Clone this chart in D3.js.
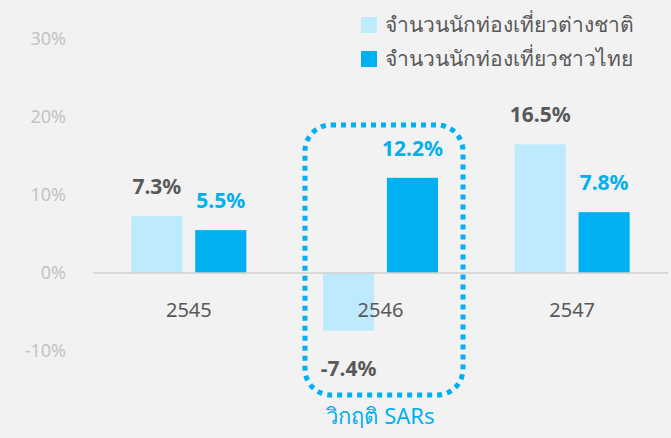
<!DOCTYPE html>
<html>
<head>
<meta charset="utf-8">
<script src="https://cdn.jsdelivr.net/npm/d3@7"></script>
<style>
  html, body { margin: 0; padding: 0; background: #f2f2f2; }
  svg { display: block; font-family: "Noto Sans", "DejaVu Sans", sans-serif; }
</style>
</head>
<body>
<svg id="chart"></svg>
<script>
// Data
const years = ['2545', '2546', '2547'];
const seriesNames = ['จำนวนนักท่องเที่ยวต่างชาติ', 'จำนวนนักท่องเที่ยวชาวไทย'];
const foreignGrowth = [7.3, -7.4, 16.5];
const thaiGrowth = [5.5, 12.2, 7.8];
const yTicks = [-10, 0, 10, 20, 30];

const colors = ['#bdebfd', '#00b0f0'];
const labelColors = ['#595959', '#00b0f0'];

const width = 671, height = 438;
const svg = d3.select('#chart')
  .attr('width', width)
  .attr('height', height)
  .attr('viewBox', `0 0 ${width} ${height}`);

svg.append('rect').attr('width', width).attr('height', height).attr('fill', '#f2f2f2');

const x = d3.scaleBand().domain(years).range([93, 668]).paddingInner(0.4).paddingOuter(0.2);
const inner = d3.scaleBand().domain([0, 1]).range([0, x.bandwidth()]).paddingInner(0.2);
const y = d3.scaleLinear().domain([-10, 30]).range([351, 39]);

// Y tick labels
svg.append('g')
  .selectAll('text')
  .data(yTicks)
  .join('text')
  .attr('x', 66)
  .attr('y', d => y(d))
  .attr('dy', '0.32em')
  .attr('text-anchor', 'end')
  .attr('font-size', '18px')
  .attr('fill', '#c3c3c3')
  .text(d => `${d}%`);

const series = [foreignGrowth, thaiGrowth];

// Bars
series.forEach((vals, s) => {
  svg.append('g')
    .selectAll('rect')
    .data(vals)
    .join('rect')
    .attr('x', (d, i) => x(years[i]) + inner(s))
    .attr('y', d => y(Math.max(0, d)))
    .attr('width', inner.bandwidth())
    .attr('height', d => Math.abs(y(d) - y(0)))
    .attr('fill', colors[s]);
});

// Zero line
svg.append('line')
  .attr('x1', 93).attr('x2', 668)
  .attr('y1', y(0)).attr('y2', y(0))
  .attr('stroke', '#d0d0d0')
  .attr('stroke-width', 1.5);

// Category labels
svg.append('g')
  .selectAll('text')
  .data(years)
  .join('text')
  .attr('x', d => x(d) + x.bandwidth() / 2)
  .attr('y', y(0) + 44)
  .attr('text-anchor', 'middle')
  .attr('font-size', '20px')
  .attr('fill', '#595959')
  .text(d => d);

// Value labels
series.forEach((vals, s) => {
  svg.append('g')
    .selectAll('text')
    .data(vals)
    .join('text')
    .attr('x', (d, i) => x(years[i]) + inner(s) + inner.bandwidth() / 2)
    .attr('y', d => d >= 0 ? y(d) - 22 : y(d) + 45)
    .attr('text-anchor', 'middle')
    .attr('font-size', '21px')
    .attr('font-weight', '700')
    .attr('fill', labelColors[s])
    .text(d => `${d}%`);
});

// SARs highlight box
svg.append('rect')
  .attr('x', 305).attr('y', 125)
  .attr('width', 158).attr('height', 270)
  .attr('rx', 26).attr('ry', 26)
  .attr('fill', 'none')
  .attr('stroke', '#00b0f0')
  .attr('stroke-width', 5)
  .attr('stroke-dasharray', '5 5');

svg.append('text')
  .attr('x', x('2546') + x.bandwidth() / 2)
  .attr('y', 424)
  .attr('text-anchor', 'middle')
  .attr('font-size', '22px')
  .attr('fill', '#00b0f0')
  .text('วิกฤติ SARs');

// Legend
const legend = svg.append('g')
  .selectAll('g')
  .data(seriesNames)
  .join('g')
  .attr('transform', (d, i) => `translate(361, ${17 + i * 34})`);

legend.append('rect')
  .attr('width', 16).attr('height', 16)
  .attr('fill', (d, i) => colors[i]);

legend.append('text')
  .attr('x', 24)
  .attr('y', 8)
  .attr('dy', '0.35em')
  .attr('font-size', '21px')
  .attr('fill', '#595959')
  .text(d => d);
</script>
</body>
</html>
